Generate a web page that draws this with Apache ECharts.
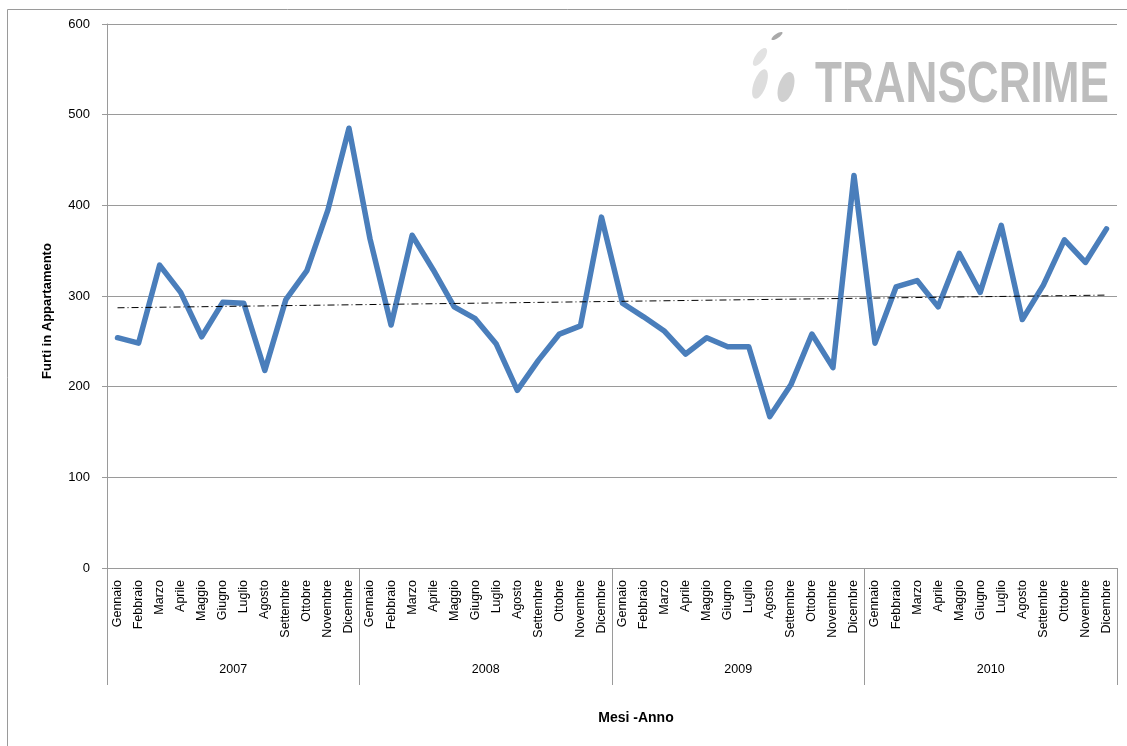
<!DOCTYPE html>
<html>
<head>
<meta charset="utf-8">
<script src="https://cdn.jsdelivr.net/npm/echarts@6/dist/echarts.min.js"></script>
<style>
  html, body { margin: 0; padding: 0; background: #ffffff; }
  #chart { width: 1127px; height: 746px; }
</style>
</head>
<body>
<div id="chart"></div>
<script>
// Monthly apartment burglaries, 2007-2010
const months = ['Gennaio', 'Febbraio', 'Marzo', 'Aprile', 'Maggio', 'Giugno',
                'Luglio', 'Agosto', 'Settembre', 'Ottobre', 'Novembre', 'Dicembre'];
const years = ['2007', '2008', '2009', '2010'];

const furti2007 = [254, 248, 334, 304, 255, 293, 292, 218, 296, 328, 395, 485];
const furti2008 = [363, 268, 367, 329, 288, 275, 247, 196, 229, 258, 267, 387];
const furti2009 = [292, 277, 261, 236, 254, 244, 244, 167, 202, 258, 221, 433];
const furti2010 = [248, 310, 317, 288, 347, 304, 378, 274, 312, 362, 337, 374];

// Linear trend: value at first and last month
const trendStart = 287;
const trendEnd = 301;

const yTicks = { min: 0, max: 600, interval: 100 };

const FONT = '"Liberation Sans", Arial, sans-serif';

const categories = [];
years.forEach(y => months.forEach(m => categories.push(m + ' ' + y)));
const values = [].concat(furti2007, furti2008, furti2009, furti2010);
const trend = values.map((v, i) => i === 0 ? trendStart : (i === values.length - 1 ? trendEnd : null));

const chart = echarts.init(document.getElementById('chart'), null, { renderer: 'canvas' });

chart.setOption({
  backgroundColor: '#ffffff',
  animation: false,
  textStyle: { fontFamily: FONT },
  grid: { left: 107, right: 10, top: 24, bottom: 178, containLabel: false },
  xAxis: [
    {
      type: 'category',
      data: categories,
      boundaryGap: true,
      axisLine: { lineStyle: { color: '#9a9a9a', width: 1 } },
      axisTick: { show: false },
      axisLabel: {
        interval: 0,
        rotate: 90,
        margin: 12,
        fontSize: 12.5,
        color: '#000',
        fontFamily: FONT,
        formatter: v => v.split(' ')[0]
      },
      splitLine: { show: false }
    },
    {
      type: 'category',
      data: years,
      position: 'bottom',
      boundaryGap: true,
      axisLine: { show: false },
      axisTick: { show: true, interval: 0, length: 117, lineStyle: { color: '#9a9a9a', width: 1 } },
      axisLabel: { interval: 0, margin: 95, fontSize: 12.5, color: '#000', fontFamily: FONT },
      splitLine: { show: false }
    }
  ],
  yAxis: {
    type: 'value',
    min: yTicks.min,
    max: yTicks.max,
    interval: yTicks.interval,
    axisLine: { show: true, lineStyle: { color: '#9a9a9a', width: 1 } },
    axisTick: { show: true, length: 5, lineStyle: { color: '#9a9a9a' } },
    axisLabel: { margin: 17, fontSize: 13, color: '#000', fontFamily: FONT },
    splitLine: { show: true, lineStyle: { color: '#9a9a9a', width: 1 } }
  },
  series: [
    {
      name: 'Furti',
      type: 'line',
      data: values,
      symbol: 'none',
      lineStyle: { color: '#4a7ebb', width: 5.5, join: 'round', cap: 'round' },
      z: 3
    },
    {
      name: 'Tendenza',
      type: 'line',
      data: trend,
      connectNulls: true,
      symbol: 'none',
      lineStyle: { color: '#000', width: 1, type: [7, 3, 1, 3] },
      z: 4
    }
  ],
  graphic: [
    // outer frame (top and left edges)
    { type: 'line', shape: { x1: 7.5, y1: 9.5, x2: 1127, y2: 9.5 }, style: { stroke: '#9a9a9a', lineWidth: 1 }, silent: true },
    { type: 'line', shape: { x1: 7.5, y1: 9.5, x2: 7.5, y2: 746 }, style: { stroke: '#9a9a9a', lineWidth: 1 }, silent: true },
    // axis titles
    {
      type: 'text', x: 47, y: 311, rotation: Math.PI / 2,
      style: { text: 'Furti in Appartamento', font: 'bold 13px ' + FONT, fill: '#000', align: 'center', verticalAlign: 'middle' }
    },
    {
      type: 'text', x: 636, y: 718,
      style: { text: 'Mesi -Anno', font: 'bold 14px ' + FONT, fill: '#000', align: 'center', verticalAlign: 'middle' }
    },
    // TRANSCRIME mark
    { type: 'ellipse', shape: { cx: 0, cy: 0, rx: 6.5, ry: 2.2 }, x: 777, y: 36, rotation: 0.6, style: { fill: '#a9a9a9' }, silent: true },
    { type: 'ellipse', shape: { cx: 0, cy: 0, rx: 10.5, ry: 4.5 }, x: 760, y: 57, rotation: 0.95, style: { fill: '#e2e2e2' }, silent: true },
    { type: 'ellipse', shape: { cx: 0, cy: 0, rx: 6.2, ry: 15.5 }, x: 760, y: 84, rotation: -0.35, style: { fill: '#dddddd' }, silent: true },
    { type: 'ellipse', shape: { cx: 0, cy: 0, rx: 7.5, ry: 15.5 }, x: 786, y: 87, rotation: -0.3, style: { fill: '#d0d0d0' }, silent: true },
    {
      type: 'text', x: 815, y: 57, scaleX: 0.76, silent: true,
      style: { text: 'TRANSCRIME', font: 'bold 58px ' + FONT, fill: '#bdbdbd' }
    }
  ]
});
</script>
</body>
</html>
